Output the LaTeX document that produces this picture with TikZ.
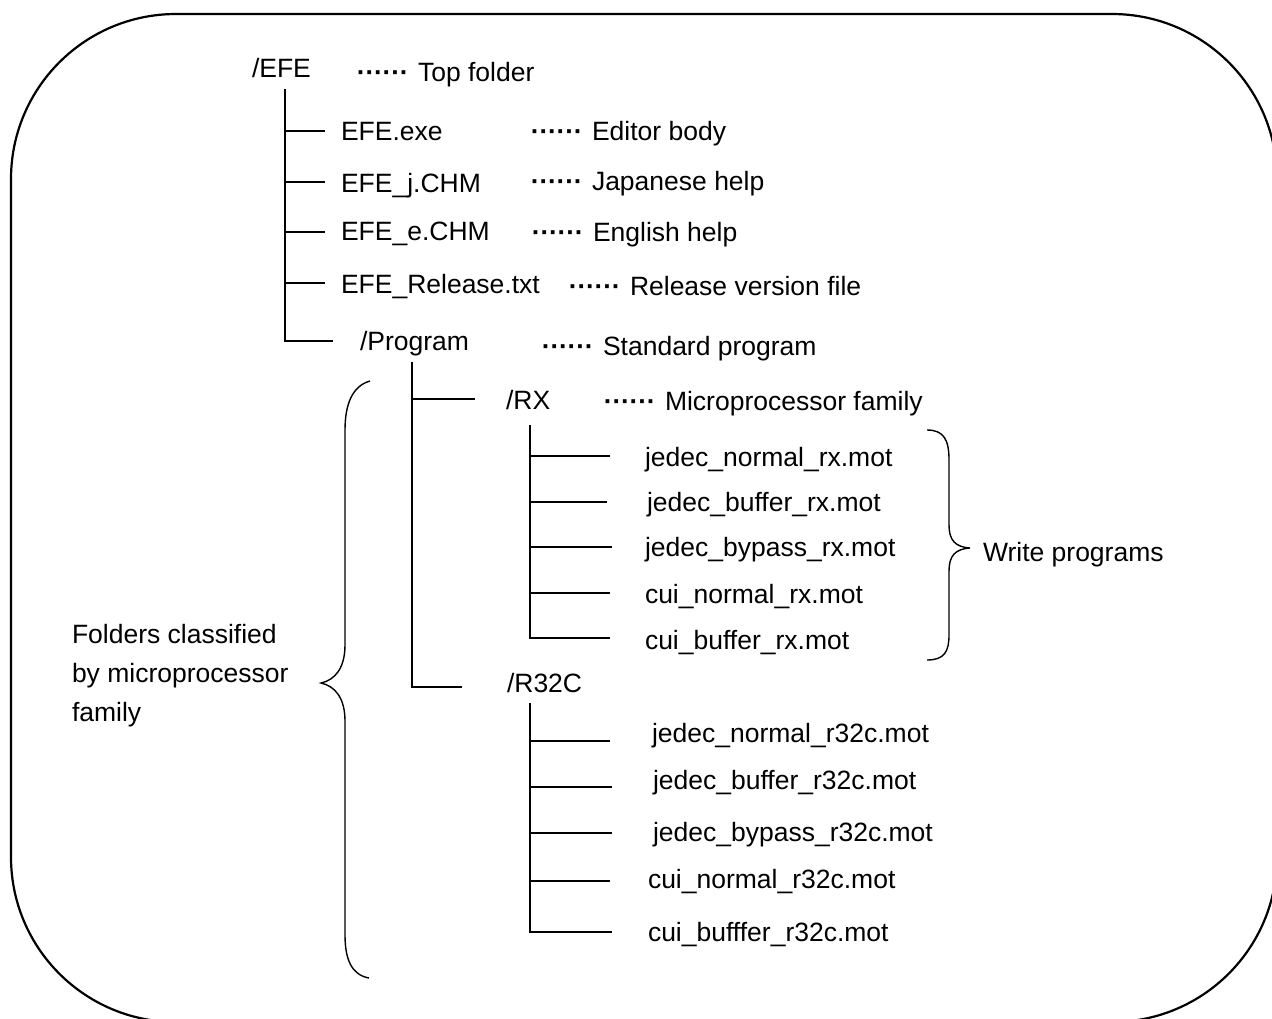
\documentclass[tikz,border=0pt]{standalone}
\usepackage{fontspec}
\setmainfont{Liberation Sans}
\newcommand{\dotsix}{\hbox to 52pt{\leaders\hbox to 8.6pt{\hss\textbf{\textperiodcentered}\hss}\hfill}}
\begin{document}
\begin{tikzpicture}[x=1pt,y=-1pt,
  lbl/.style={anchor=base west, inner sep=0pt, outer sep=0pt, font=\fontsize{26.5}{32}\selectfont},
  desc/.style={lbl},
  tree/.style={line width=1.8pt},
  brace/.style={line width=1.4pt},
  frame/.style={line width=2.2pt}]
\useasboundingbox (0,0) rectangle (1272,1018);
\begin{scope}
\clip (0,0) rectangle (1272,1018);
\draw[frame, rounded corners=165pt] (11,14) rectangle (1277,1022);
\end{scope}

% top level
\node[lbl] (efe) at (252,77) {/EFE};
\node[desc] (dtop) at (357,81) {\dotsix\hspace{9pt}Top folder};
\node[lbl] (exe) at (341,140) {EFE.exe};
\node[desc] (dexe) at (531,140) {\dotsix\hspace{9pt}Editor body};
\node[lbl] (jchm) at (341,192) {EFE\_j.CHM};
\node[desc] (djchm) at (531,190) {\dotsix\hspace{9pt}Japanese help};
\node[lbl] (echm) at (341,240) {EFE\_e.CHM};
\node[desc] (dechm) at (532,241) {\dotsix\hspace{9pt}English help};
\node[lbl] (rel) at (341,293) {EFE\_Release.txt};
\node[desc] (drel) at (569,295) {\dotsix\hspace{9pt}Release version file};
\node[lbl] (prog) at (360,350) {/Program};
\node[desc] (dprog) at (542,355) {\dotsix\hspace{9pt}Standard program};
\node[lbl] (rx) at (506,409) {/RX};
\node[desc] (drx) at (604,410) {\dotsix\hspace{9pt}Microprocessor family};

% RX files
\node[lbl] (f1) at (645,466) {jedec\_normal\_rx.mot};
\node[lbl] (f2) at (647,511) {jedec\_buffer\_rx.mot};
\node[lbl] (f3) at (645,556) {jedec\_bypass\_rx.mot};
\node[lbl] (f4) at (645,603) {cui\_normal\_rx.mot};
\node[lbl] (f5) at (645,649) {cui\_buffer\_rx.mot};

\node[lbl] (r32c) at (507,692) {/R32C};
\node[lbl] (g1) at (652,742) {jedec\_normal\_r32c.mot};
\node[lbl] (g2) at (653,789) {jedec\_buffer\_r32c.mot};
\node[lbl] (g3) at (653,841) {jedec\_bypass\_r32c.mot};
\node[lbl] (g4) at (648,888) {cui\_normal\_r32c.mot};
\node[lbl] (g5) at (648,941) {cui\_bufffer\_r32c.mot};

\node[lbl] (write) at (983,561) {Write programs};
\node[lbl, align=left, anchor=north west, font=\fontsize{26.5}{39}\selectfont] (fold) at (72,624)
  {Folders classified\\by microprocessor\\family};

% main tree
\coordinate (a0) at (285,89);
\coordinate (a1) at (285,341);
\coordinate (a2) at (333,341);
\draw[tree] (a0) -- (a1) -- (a2);
\foreach \yy/\xe in {131/325,182/325,232/325,283/325}
  \draw[tree] (285,\yy) -- (\xe,\yy);

% program subtree
\coordinate (p0) at (412,362);
\coordinate (p1) at (412,687);
\coordinate (p2) at (462,687);
\draw[tree] (p0) -- (p1) -- (p2);
\draw[tree] (412,399) -- (475,399);

% RX subtree
\coordinate (r0) at (530,425);
\coordinate (r1) at (530,638);
\coordinate (r2) at (610,638);
\draw[tree] (r0) -- (r1) -- (r2);
\foreach \yy/\xe in {456/610,502/607,547/612,593/610}
  \draw[tree] (530,\yy) -- (\xe,\yy);

% R32C subtree
\coordinate (s0) at (530,703);
\coordinate (s1) at (530,932);
\coordinate (s2) at (612,932);
\draw[tree] (s0) -- (s1) -- (s2);
\foreach \yy/\xe in {741/610,787/612,833/612,881/610}
  \draw[tree] (530,\yy) -- (\xe,\yy);

% braces
\draw[brace] (927,430) .. controls (944,430) and (949,440) .. (949,460) -- (949,525)
  .. controls (949,540) and (955,547) .. (970,548)
  .. controls (955,549) and (949,556) .. (949,571) -- (949,635)
  .. controls (949,652) and (944,660) .. (927,660);
\draw[brace] (370,381) .. controls (352,386) and (345,405) .. (345,430) -- (345,645)
  .. controls (345,668) and (335,680) .. (321,683)
  .. controls (335,686) and (345,698) .. (345,721) -- (345,935)
  .. controls (345,960) and (352,975) .. (369,978);
\end{tikzpicture}
\end{document}
